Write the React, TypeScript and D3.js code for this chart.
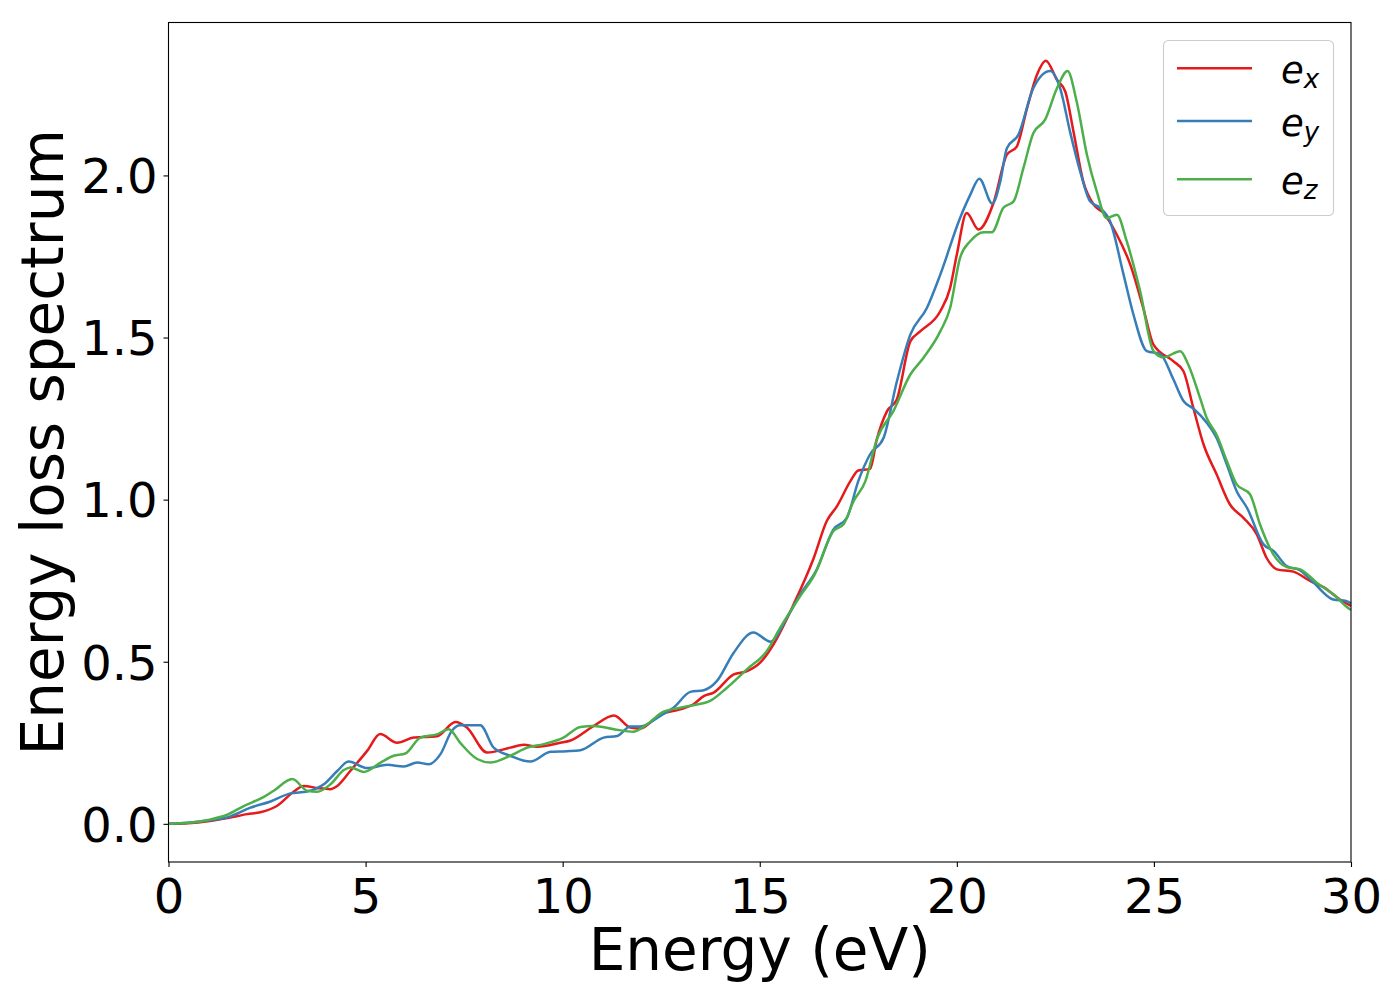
import { useEffect, useRef } from 'react';
import * as d3 from 'd3';

// energy (eV), loss value
const ex: [number, number][] = [
	[0, 0], [0.5, 0.002], [1, 0.008], [1.5, 0.018], [2, 0.03], [2.33, 0.036], [2.76, 0.056], [3.18, 0.1],
	[3.43, 0.117], [3.8, 0.11], [4.1, 0.107], [4.28, 0.117], [4.61, 0.163], [5.04, 0.225], [5.37, 0.277],
	[5.8, 0.25], [6.22, 0.266], [6.81, 0.27], [7.28, 0.314], [7.57, 0.297], [8.08, 0.22], [8.67, 0.235],
	[9.01, 0.244], [9.35, 0.238], [9.94, 0.25], [10.2, 0.257], [10.79, 0.302], [11.3, 0.334], [11.72, 0.297],
	[11.97, 0.294], [12.48, 0.338], [12.98, 0.353], [13.32, 0.369], [13.58, 0.394], [13.83, 0.405],
	[14.34, 0.461], [14.68, 0.471], [15.01, 0.497], [15.35, 0.554], [15.86, 0.677], [16.37, 0.82],
	[16.7, 0.934], [16.96, 0.98], [17.3, 1.057], [17.5, 1.09], [17.8, 1.095], [17.97, 1.186], [18.23, 1.273],
	[18.48, 1.31], [18.82, 1.488], [19.07, 1.519], [19.58, 1.581], [19.83, 1.653], [20.0, 1.756],
	[20.25, 1.884], [20.55, 1.833], [20.93, 1.915], [21.27, 2.064], [21.52, 2.089], [21.78, 2.207],
	[22.03, 2.31], [22.26, 2.354], [22.54, 2.295], [22.75, 2.259], [22.96, 2.135], [23.21, 1.98],
	[23.47, 1.91], [23.72, 1.884], [24.06, 1.817], [24.4, 1.725], [24.73, 1.591], [24.99, 1.478],
	[25.49, 1.427], [25.75, 1.396], [26.0, 1.283], [26.26, 1.17], [26.59, 1.078], [26.93, 0.985],
	[27.27, 0.944], [27.61, 0.893], [27.86, 0.82], [28.12, 0.785], [28.54, 0.778], [28.96, 0.749],
	[29.3, 0.73], [29.72, 0.692], [30, 0.672]
];

const ey: [number, number][] = [
	[0, 0], [0.5, 0.003], [1, 0.01], [1.49, 0.02], [2.08, 0.05], [2.59, 0.069], [3.09, 0.094], [3.52, 0.1],
	[3.94, 0.122], [4.28, 0.163], [4.57, 0.192], [5.04, 0.172], [5.55, 0.182], [5.97, 0.177], [6.31, 0.189],
	[6.6, 0.184], [6.9, 0.215], [7.19, 0.287], [7.4, 0.304], [7.91, 0.304], [8.25, 0.235], [8.67, 0.21],
	[9.18, 0.192], [9.69, 0.222], [10.1, 0.224], [10.45, 0.227], [11.04, 0.266], [11.38, 0.271],
	[11.72, 0.3], [11.97, 0.3], [12.48, 0.333], [12.81, 0.358], [13.24, 0.407], [13.58, 0.412],
	[13.91, 0.44], [14.34, 0.528], [14.84, 0.59], [15.27, 0.562], [15.69, 0.636], [16.03, 0.708],
	[16.45, 0.785], [16.87, 0.908], [17.21, 0.944], [17.5, 1.057], [17.8, 1.14], [18.14, 1.19],
	[18.48, 1.365], [18.82, 1.509], [19.24, 1.591], [19.58, 1.694], [20.08, 1.868], [20.34, 1.94],
	[20.57, 1.99], [20.9, 1.913], [21.1, 1.98], [21.27, 2.084], [21.56, 2.125], [21.94, 2.269],
	[22.37, 2.322], [22.62, 2.269], [22.87, 2.136], [23.13, 2.012], [23.38, 1.92], [23.63, 1.9],
	[23.89, 1.858], [24.23, 1.694], [24.48, 1.571], [24.82, 1.458], [25.16, 1.449], [25.49, 1.372],
	[25.75, 1.304], [26.0, 1.281], [26.34, 1.237], [26.59, 1.19], [26.85, 1.108], [27.1, 1.026],
	[27.36, 0.975], [27.78, 0.862], [28.04, 0.841], [28.37, 0.795], [28.71, 0.782], [29.05, 0.744],
	[29.55, 0.692], [29.89, 0.687], [30, 0.68]
];

const ez: [number, number][] = [
	[0, 0], [0.5, 0.003], [1, 0.012], [1.49, 0.028], [1.91, 0.055], [2.42, 0.083], [2.67, 0.102],
	[3.14, 0.138], [3.52, 0.102], [3.77, 0.099], [4.11, 0.122], [4.45, 0.166], [4.62, 0.174], [4.95, 0.16],
	[5.38, 0.189], [5.71, 0.21], [6.01, 0.217], [6.39, 0.266], [6.81, 0.276], [7.11, 0.292], [7.4, 0.25],
	[7.83, 0.2], [8.17, 0.189], [8.67, 0.21], [9.1, 0.235], [9.52, 0.246], [10.02, 0.266], [10.45, 0.299],
	[10.79, 0.302], [11.3, 0.292], [11.8, 0.284], [12.14, 0.307], [12.56, 0.346], [12.98, 0.358],
	[13.32, 0.366], [13.74, 0.379], [14.17, 0.42], [14.68, 0.477], [15.18, 0.533], [15.52, 0.605],
	[16.03, 0.703], [16.37, 0.764], [16.87, 0.903], [17.13, 0.925], [17.38, 0.995], [17.68, 1.057],
	[17.97, 1.186], [18.39, 1.273], [18.82, 1.386], [19.15, 1.437], [19.58, 1.519], [19.83, 1.591],
	[20.08, 1.745], [20.34, 1.797], [20.68, 1.825], [20.89, 1.825], [21.18, 1.9], [21.44, 1.92],
	[21.69, 2.023], [21.94, 2.13], [22.24, 2.172], [22.54, 2.269], [22.81, 2.322], [23.04, 2.228],
	[23.3, 2.064], [23.55, 1.951], [23.8, 1.868], [24.06, 1.879], [24.31, 1.797], [24.65, 1.643],
	[24.99, 1.458], [25.24, 1.439], [25.67, 1.458], [25.87, 1.417], [26.17, 1.314], [26.34, 1.252],
	[26.59, 1.2], [26.85, 1.119], [27.1, 1.047], [27.44, 1.016], [27.69, 0.924], [28.03, 0.831],
	[28.37, 0.792], [28.71, 0.785], [29.13, 0.744], [29.55, 0.708], [29.97, 0.662], [30, 0.66]
];

const seriesNames = ["x", "y", "z"];
const seriesColors = ["#e41a1c", "#377eb8", "#4daf4a"];
const xTicks = [0, 5, 10, 15, 20, 25, 30];
const yTicks = [0, 0.5, 1.0, 1.5, 2.0];

const FONT = "'DejaVu Sans', sans-serif";

export default function App() {
	const ref = useRef<SVGSVGElement>(null);

	useEffect(() => {
		const width = 1400;
		const height = 1000;
		const margin = { top: 22.5, right: 49, bottom: 138, left: 168.5 };
		const all = [ex, ey, ez];

		const svg = d3.select(ref.current);
		svg.selectAll("*").remove();

		const x = d3.scaleLinear()
			.domain([0, 30])
			.range([margin.left, width - margin.right]);

		const maxV = d3.max(all, s => d3.max(s, d => d[1])) as number;
		const minV = d3.min(all, s => d3.min(s, d => d[1])) as number;
		const pad = (maxV - minV) * 0.05;
		const y = d3.scaleLinear()
			.domain([minV - pad, maxV + pad])
			.range([height - margin.bottom, margin.top]);

		const line = d3.line<[number, number]>()
			.x(d => x(d[0]))
			.y(d => y(d[1]))
			.curve(d3.curveMonotoneX);

		all.forEach((s, i) => {
			svg.append("path")
				.datum(s)
				.attr("fill", "none")
				.attr("stroke", seriesColors[i])
				.attr("stroke-width", 2.5)
				.attr("stroke-linejoin", "round")
				.attr("d", line);
		});

		// spines
		svg.append("rect")
			.attr("x", margin.left)
			.attr("y", margin.top)
			.attr("width", width - margin.right - margin.left)
			.attr("height", height - margin.bottom - margin.top)
			.attr("fill", "none")
			.attr("stroke", "#000")
			.attr("stroke-width", 1.1);

		const xAxis = svg.append("g")
			.attr("transform", `translate(0,${height - margin.bottom})`)
			.call(d3.axisBottom(x).tickValues(xTicks).tickSize(5).tickPadding(10).tickFormat(d3.format("d")));
		const yAxis = svg.append("g")
			.attr("transform", `translate(${margin.left},0)`)
			.call(d3.axisLeft(y).tickValues(yTicks).tickSize(5).tickPadding(6).tickFormat(d3.format(".1f")));

		[xAxis, yAxis].forEach(g => {
			g.select(".domain").remove();
			g.selectAll(".tick line").attr("stroke", "#000").attr("stroke-width", 1.1);
			g.selectAll(".tick text")
				.style("font-family", FONT)
				.style("font-size", "48px")
				.attr("fill", "#000");
		});
		xAxis.selectAll(".tick text").attr("dy", "0.74em");
		yAxis.selectAll(".tick text").attr("dy", "0.36em");

		svg.append("text")
			.attr("x", (margin.left + width - margin.right) / 2)
			.attr("y", 970)
			.attr("text-anchor", "middle")
			.style("font-family", FONT)
			.style("font-size", "58px")
			.text("Energy (eV)");

		svg.append("text")
			.attr("transform", `translate(63,${(margin.top + height - margin.bottom) / 2}) rotate(-90)`)
			.attr("text-anchor", "middle")
			.style("font-family", FONT)
			.style("font-size", "58px")
			.text("Energy loss spectrum");

		// legend
		const legend = svg.append("g");
		legend.append("rect")
			.attr("x", 1163.5)
			.attr("y", 40.5)
			.attr("width", 170)
			.attr("height", 175)
			.attr("rx", 5)
			.attr("fill", "#fff")
			.attr("fill-opacity", 0.8)
			.attr("stroke", "#cccccc")
			.attr("stroke-width", 1.1);

		const rowY = [68.3, 121, 179.3];
		seriesNames.forEach((n, i) => {
			legend.append("line")
				.attr("x1", 1177)
				.attr("x2", 1252)
				.attr("y1", rowY[i])
				.attr("y2", rowY[i])
				.attr("stroke", seriesColors[i])
				.attr("stroke-width", 2.5);
			const t = legend.append("text")
				.attr("x", 1281)
				.attr("y", rowY[i] + 15)
				.style("font-family", FONT)
				.style("font-style", "italic")
				.style("font-size", "37px");
			t.append("tspan").text("e");
			t.append("tspan")
				.attr("dy", 5)
				.style("font-size", "26px")
				.text(n);
		});
	}, []);

	return (
		<svg
			ref={ref}
			width={1400}
			height={1000}
			style={{ position: "absolute", left: 0, top: 0, background: "#fff" }}
		/>
	);
}
